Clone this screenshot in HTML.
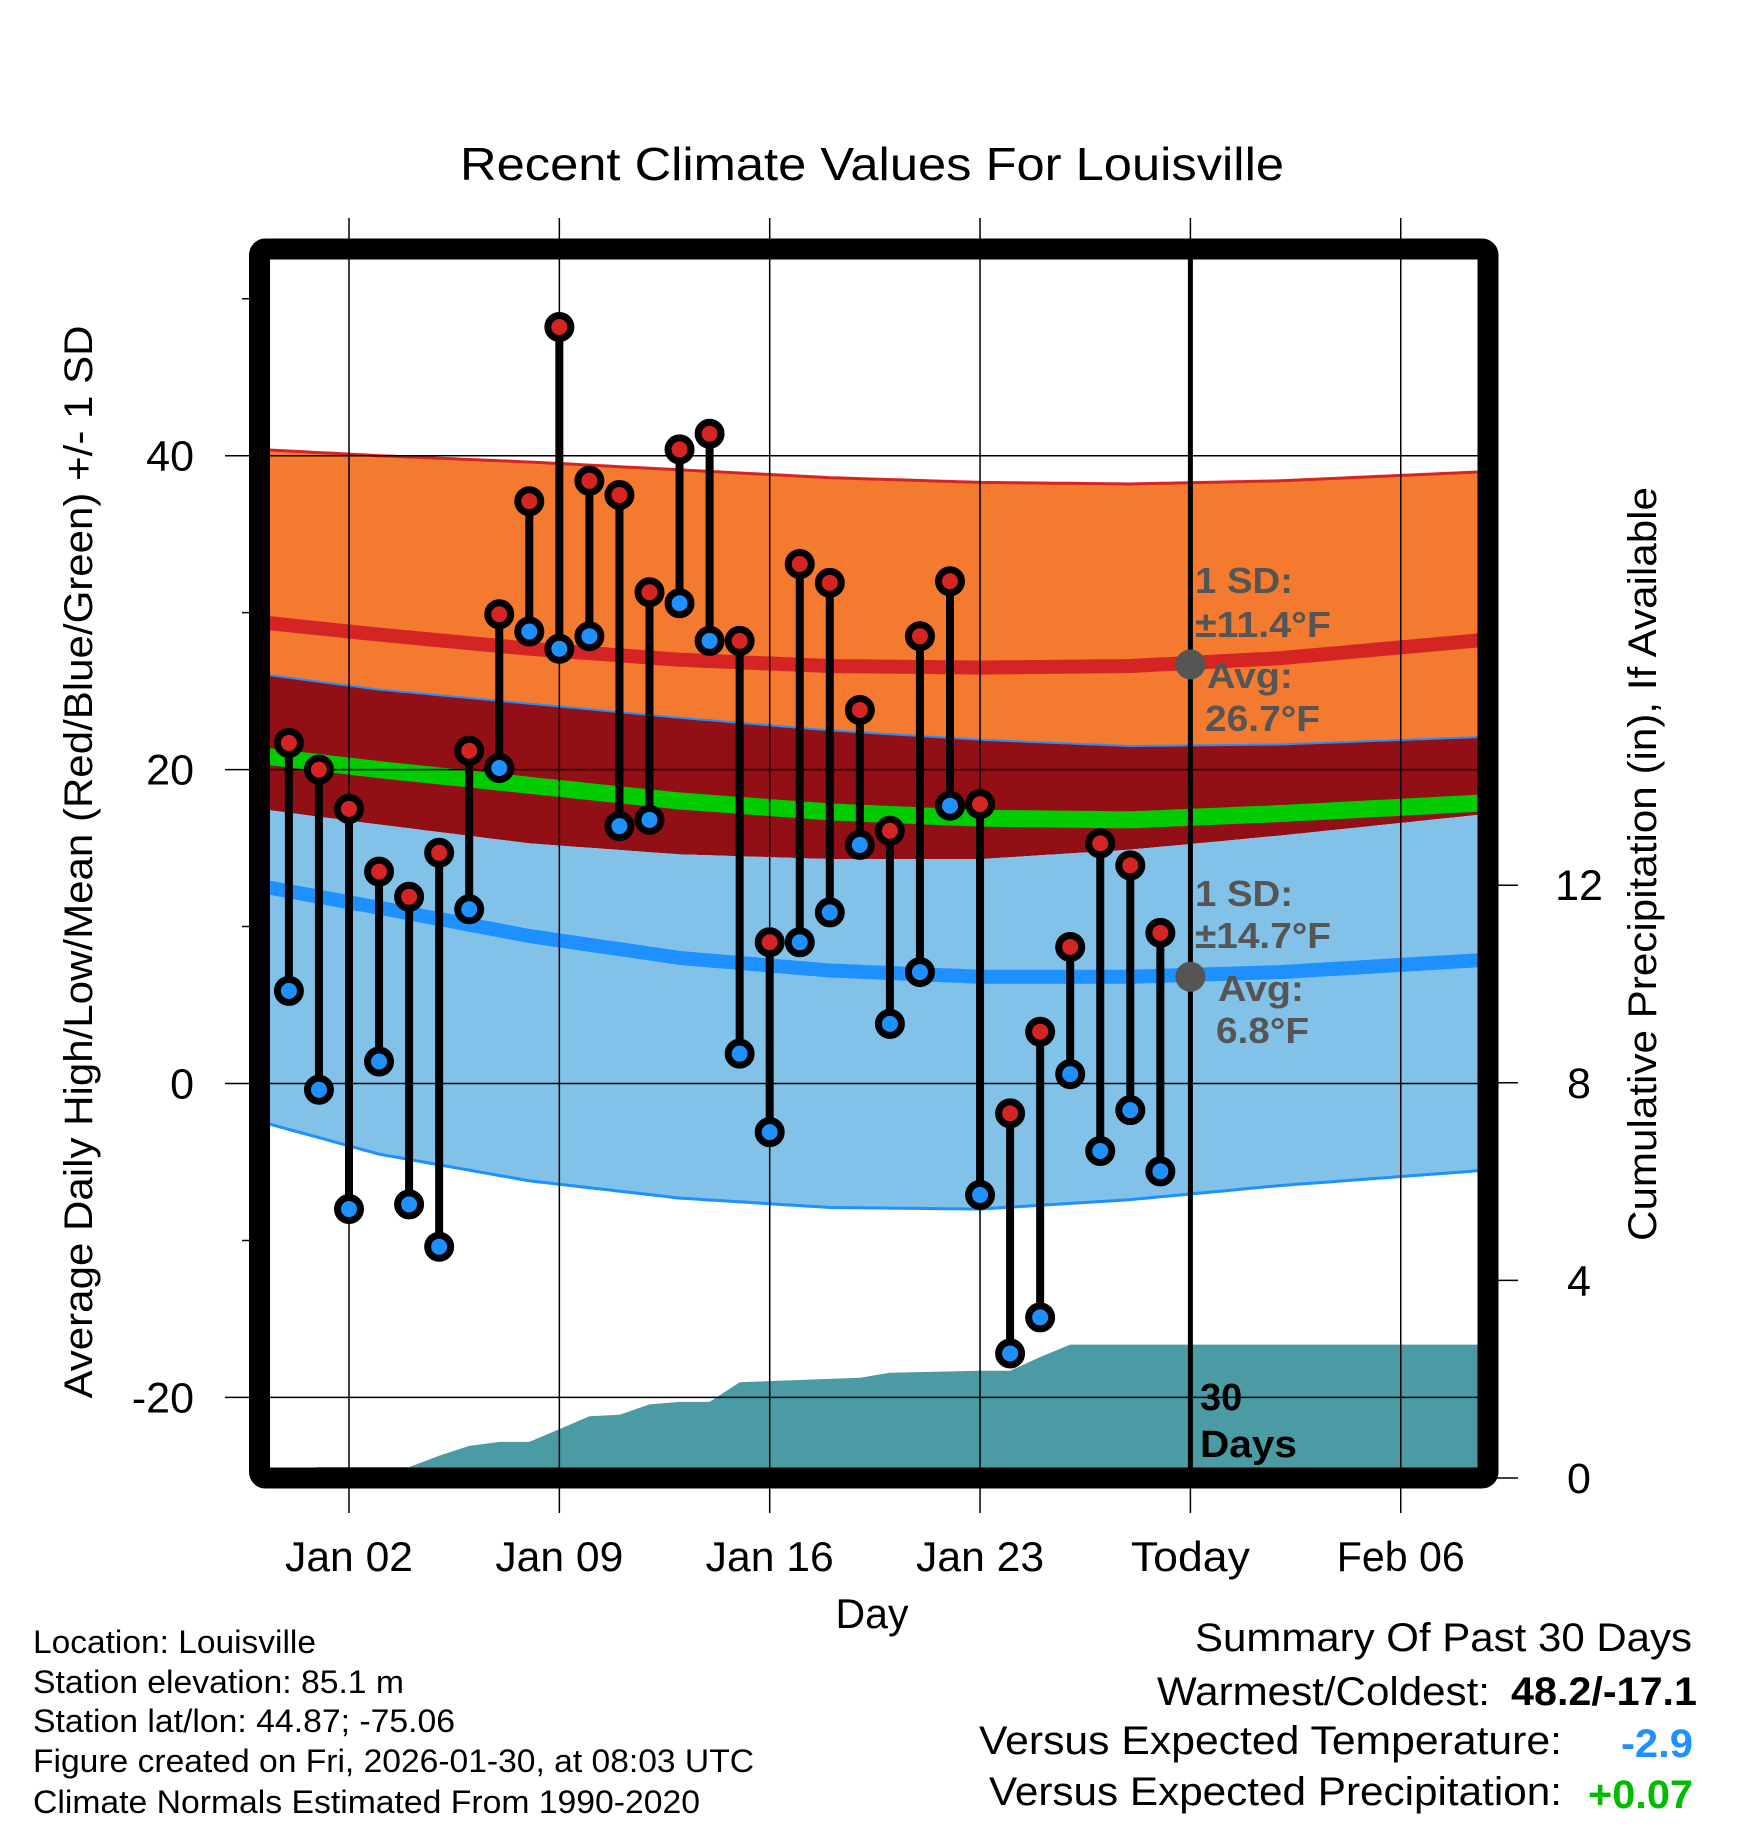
<!DOCTYPE html>
<html><head><meta charset="utf-8"><style>
html,body{margin:0;padding:0;background:#fff;}
svg{display:block;font-family:"Liberation Sans",Arial,sans-serif;}
</style></head><body>
<svg id="chart" width="1748" height="1828" viewBox="0 0 1748 1828" xmlns="http://www.w3.org/2000/svg">
<g id="bands"></g>
<g id="precip"></g>
<g id="grid"></g>
<g id="marks"></g>
<g id="frameg"></g>
<g id="labels"></g>
</svg>
<script>
// ---- data ----
const days = [0,1,2,3,4,5,6,7,8,9,10,11,12,13,14,15,16,17,18,19,20,21,22,23,24,25,26,27,28,29];
const highs = [21.7,20.0,17.5,13.5,11.9,14.7,21.2,29.9,37.1,48.2,38.4,37.5,31.3,40.4,41.4,28.2,9.0,33.1,31.9,23.8,16.1,28.5,32.0,17.8,-1.9,3.3,8.7,15.3,13.9,9.6];
const lows = [5.9,-0.4,-8.0,1.4,-7.7,-10.4,11.1,20.1,28.8,27.7,28.5,16.4,16.8,30.6,28.2,1.9,-3.1,9.0,10.9,15.2,3.8,7.1,17.7,-7.1,-17.2,-14.9,0.6,-4.3,-1.7,-5.6];
const normDays = [-1,3,8,13,18,23,28,33,40];
const highUpper = [40.4,40.0,39.6,39.1,38.6,38.3,38.2,38.4,39.0];
const highMean = [29.4,28.6,27.7,27.0,26.6,26.5,26.6,27.1,28.3];
const highLower = [26.1,25.1,24.2,23.3,22.5,21.9,21.5,21.6,22.1];
const meanLine = [20.9,20.0,19.0,18.0,17.3,16.9,16.8,17.2,17.9];
const lowUpper = [17.5,16.5,15.3,14.6,14.3,14.3,14.9,15.8,17.2];
const lowMean = [12.6,11.2,9.4,8.0,7.2,6.8,6.8,7.1,7.9];
const lowLower = [-2.4,-4.5,-6.2,-7.3,-7.9,-8.0,-7.4,-6.5,-5.5];
const precipDays = [-1,0,1,4,5,6,7,8,9,10,11,12,13,14,15,19,20,23,24,25,26,29,40];
const precipCum = [0.15,0.18,0.22,0.22,0.45,0.65,0.73,0.73,0.99,1.25,1.28,1.49,1.54,1.54,1.94,2.03,2.13,2.17,2.17,2.45,2.70,2.70,2.70];
const xTickDays = [2,9,16,23,30,37];
const xTickLabels = ["Jan 02","Jan 09","Jan 16","Jan 23","Today","Feb 06"];
const yTicks = [40,20,0,-20];
const yMinor = [50,30,10,-10];
const pTicks = [0,4,8,12];

// ---- scales ----
const L=259.5,R=1488,T=249,B=1478;
const x = d => 349 + (d-2)*30.05;
const y = t => 1083.5 - t*15.695;
const py = p => 1478 - p*49.4;
const NS="http://www.w3.org/2000/svg";
function mk(parent,tag,attrs){const e=document.createElementNS(NS,tag);for(const k in attrs)e.setAttribute(k,attrs[k]);parent.appendChild(e);return e;}
function interp(xs,ys,d){if(d<=xs[0])return ys[0];for(let i=1;i<xs.length;i++){if(d<=xs[i]){const f=(d-xs[i-1])/(xs[i]-xs[i-1]);return ys[i-1]+f*(ys[i]-ys[i-1]);}}return ys[ys.length-1];}
function curve(arr){const pts=[];for(let d=-1;d<=40;d+=0.25){const dd=Math.min(d,39.95);pts.push([x(dd),y(interp(normDays,arr,dd))]);}return pts;}
const ps = p=>p.map(a=>a[0].toFixed(1)+','+a[1].toFixed(1)).join(' ');
function band(g,a,b,fill,name){const p1=curve(a),p2=curve(b).reverse();const e=mk(g,'polygon',{points:ps(p1.concat(p2)),fill:fill});}
function line(g,a,col,w,name){const e=mk(g,'polyline',{points:ps(curve(a)),fill:'none',stroke:col,'stroke-width':w});}

const svg=document.getElementById('chart');
const bandsG=document.getElementById('bands');
const clip=mk(svg,'clipPath',{id:'pc'});mk(clip,'rect',{x:L,y:T,width:R-L,height:B-T});
bandsG.setAttribute('clip-path','url(#pc)');
band(bandsG,highUpper,highLower,'#f47a30','high-sd-band');
band(bandsG,highLower,lowUpper,'#920f16','overlap-band');
band(bandsG,lowUpper,lowLower,'#82c2e8','low-sd-band');
line(bandsG,meanLine,'#00cc00',17,'mean-line');
line(bandsG,highMean,'#d42424',14,'high-mean-line');
line(bandsG,lowMean,'#1e90ff',14,'low-mean-line');
line(bandsG,highUpper,'#d42424',3,'high-upper-line');
line(bandsG,highLower,'#1e90ff',2,'high-lower-line');
line(bandsG,lowLower,'#1e90ff',3,'low-lower-line');

// precipitation
const pg=document.getElementById('precip');pg.setAttribute('clip-path','url(#pc)');
let pp=[[x(-1),py(0)]];precipDays.forEach((d,i)=>pp.push([x(d),py(precipCum[i])]));pp.push([x(40),py(0)]);
const pa=mk(pg,'polygon',{points:ps(pp),fill:'#4a9ba4'});



// grid
const gg=document.getElementById('grid');
xTickDays.forEach(d=>{const e=mk(gg,'line',{x1:x(d),x2:x(d),y1:218,y2:1513,stroke:'#000','stroke-width':1.5});});
const tl=mk(gg,'line',{x1:x(30),x2:x(30),y1:T,y2:B,stroke:'#000','stroke-width':5});


yTicks.forEach(t=>{const e=mk(gg,'line',{x1:225,x2:R,y1:y(t),y2:y(t),stroke:'#000','stroke-width':1.5});});
yMinor.forEach(t=>{const e=mk(gg,'line',{x1:242,x2:L,y1:y(t),y2:y(t),stroke:'#000','stroke-width':1.5});});
pTicks.forEach(p=>{const e=mk(gg,'line',{x1:R,x2:1518,y1:py(p),y2:py(p),stroke:'#000','stroke-width':1.5});});

// marks
const mg=document.getElementById('marks');mg.setAttribute('clip-path','url(#pc)');
days.forEach((d,i)=>{
 const s=mk(mg,'line',{x1:x(d),x2:x(d),y1:y(highs[i]),y2:y(lows[i]),stroke:'#000','stroke-width':8});
 
 
 const c1=mk(mg,'circle',{cx:x(d),cy:y(lows[i]),r:11.5,fill:'#1e90ff',stroke:'#000','stroke-width':7});
 
 
 const c2=mk(mg,'circle',{cx:x(d),cy:y(highs[i]),r:11.5,fill:'#d42424',stroke:'#000','stroke-width':7});
 
 
});
const fg=document.getElementById('frameg');
const fr=mk(fg,'rect',{x:L,y:T,width:R-L,height:B-T,fill:'none',stroke:'#000','stroke-width':21,rx:6});


[[26.7],[6.8]].forEach(v=>{const c=mk(fg,'circle',{cx:x(30),cy:y(v[0]),r:15,fill:'#555'});});

// labels
const lg=document.getElementById('labels');
function txt(s,attrs,name,len){const e=mk(lg,'text',attrs);e.textContent=s;if(len){e.setAttribute('textLength',len);e.setAttribute('lengthAdjust','spacingAndGlyphs');}return e;}
txt('Recent Climate Values For Louisville',{x:872,y:180,'font-size':46,'text-anchor':'middle'},'chart-title',824);
yTicks.forEach(t=>txt(String(t),{x:194,y:y(t)+15,'font-size':43,'text-anchor':'end'},'y-tick-label'));
pTicks.forEach(p=>txt(String(p),{x:1579,y:py(p)+15,'font-size':43,'text-anchor':'middle'},'precip-tick-label'));
xTickDays.forEach((d,i)=>txt(xTickLabels[i],{x:x(d),y:1571,'font-size':42,'text-anchor':'middle'},'x-tick-label',xTickLabels[i]==='Today'?119:128));
txt('Day',{x:872,y:1628,'font-size':42,'text-anchor':'middle'},'x-axis-title',73);
txt('Average Daily High/Low/Mean (Red/Blue/Green) +/- 1 SD',{x:0,y:0,'font-size':40,'text-anchor':'middle',transform:'translate(92,862) rotate(-90)'},'y-axis-title',1073);
txt('Cumulative Precipitation (in), If Available',{x:0,y:0,'font-size':40,'text-anchor':'middle',transform:'translate(1656,864) rotate(-90)'},'precip-axis-title',754);
const g1={fill:'#555','font-size':36,'font-weight':'bold'};
txt('1 SD:',Object.assign({x:1195,y:593},g1),'high-sd-label',98);
txt('±11.4°F',Object.assign({x:1195,y:637},g1),'high-sd-value',136);
txt('Avg:',Object.assign({x:1207,y:688},g1),'high-avg-label',86);
txt('26.7°F',Object.assign({x:1205,y:731},g1),'high-avg-value',115);
txt('1 SD:',Object.assign({x:1195,y:906},g1),'low-sd-label',98);
txt('±14.7°F',Object.assign({x:1195,y:948},g1),'low-sd-value',136);
txt('Avg:',Object.assign({x:1218,y:1001},g1),'low-avg-label',86);
txt('6.8°F',Object.assign({x:1216,y:1043},g1),'low-avg-value',93);
txt('30',{x:1200,y:1410,'font-size':38,'font-weight':'bold'},'days-label');
txt('Days',{x:1200,y:1457,'font-size':38,'font-weight':'bold'},'days-label-2',97);
const info=['Location: Louisville','Station elevation: 85.1 m','Station lat/lon: 44.87; -75.06','Figure created on Fri, 2026-01-30, at 08:03 UTC','Climate Normals Estimated From 1990-2020'];
const infoLen=[283,371,422,721,667];
const infoY=[1653,1693,1732,1772,1813];
info.forEach((s,i)=>txt(s,{x:33,y:infoY[i],'font-size':32},'station-info',infoLen[i]));
txt('Summary Of Past 30 Days',{x:1692,y:1651,'font-size':40,'text-anchor':'end'},'summary-title',497);
txt('Warmest/Coldest:',{x:1490,y:1705,'font-size':40,'text-anchor':'end'},'warmest-label',333);
txt('48.2/-17.1',{x:1697,y:1705,'font-size':40,'font-weight':'bold','text-anchor':'end'},'warmest-value',186);
txt('Versus Expected Temperature:',{x:1562,y:1754,'font-size':40,'text-anchor':'end'},'temp-anomaly-label',583);
txt('-2.9',{x:1693,y:1757,'font-size':40,'font-weight':'bold','text-anchor':'end',fill:'#1e90ff'},'temp-anomaly-value',72);
txt('Versus Expected Precipitation:',{x:1562,y:1805,'font-size':40,'text-anchor':'end'},'precip-anomaly-label',573);
txt('+0.07',{x:1693,y:1808,'font-size':40,'font-weight':'bold','text-anchor':'end',fill:'#00bb00'},'precip-anomaly-value',105);
</script>
</body></html>
